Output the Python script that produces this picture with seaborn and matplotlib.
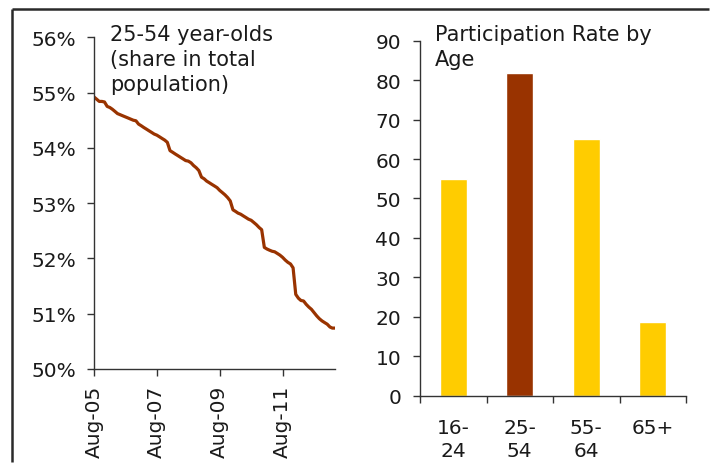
import matplotlib
matplotlib.use("Agg")
import matplotlib.pyplot as plt
import matplotlib.dates as mdates
from matplotlib.lines import Line2D
import numpy as np
import pandas as pd
import seaborn as sns

# Share of 25-54 year-olds in the total population (%), monthly Aug-2005 .. Apr-2013
share_2005 = [54.92, 54.88, 54.84, 54.84, 54.83]
share_2006 = [54.75, 54.73, 54.70, 54.66, 54.62, 54.60, 54.58, 54.56, 54.54, 54.52, 54.50, 54.49]
share_2007 = [54.43, 54.40, 54.37, 54.34, 54.31, 54.28, 54.25, 54.23, 54.20, 54.17, 54.14, 54.10]
share_2008 = [53.95, 53.92, 53.89, 53.86, 53.83, 53.80, 53.77, 53.76, 53.73, 53.68, 53.64, 53.59]
share_2009 = [53.47, 53.44, 53.40, 53.37, 53.34, 53.31, 53.28, 53.23, 53.19, 53.15, 53.10, 53.04]
share_2010 = [52.88, 52.85, 52.82, 52.80, 52.77, 52.74, 52.71, 52.69, 52.65, 52.61, 52.56, 52.52]
share_2011 = [52.20, 52.17, 52.15, 52.13, 52.12, 52.09, 52.06, 52.02, 51.97, 51.93, 51.90, 51.83]
share_2012 = [51.35, 51.28, 51.24, 51.23, 51.17, 51.12, 51.08, 51.02, 50.96, 50.91, 50.87, 50.84]
share_2013 = [50.81, 50.76, 50.74, 50.74]
share_start = "2005-08-01"

# Labour force participation rate by age group
age_groups = ["16-\n24", "25-\n54", "55-\n64", "65+"]
participation = [54.9, 81.8, 65.0, 18.7]
bar_colors = ["#FFCC00", "#993300", "#FFCC00", "#FFCC00"]

left_ticks = ["2005-08-01", "2007-08-01", "2009-08-01", "2011-08-01"]

share = share_2005 + share_2006 + share_2007 + share_2008 + share_2009 + \
    share_2010 + share_2011 + share_2012 + share_2013
dates = pd.date_range(share_start, periods=len(share), freq="MS")
df_share = pd.DataFrame({"date": dates, "share": share})
df_part = pd.DataFrame({"age": age_groups, "rate": participation})

sns.set_theme(style="ticks")
plt.rcParams["font.family"] = ["DejaVu Sans"]
axis_color = "#333333"
text_color = "#1a1a1a"
fs = 14.5

W, H, DPI = 712, 464, 100
fig = plt.figure(figsize=(W / DPI, H / DPI), dpi=DPI)
fig.patch.set_facecolor("white")
fig.patch.set_linewidth(0)

# ---- left panel: population share line ----
ax1 = fig.add_axes([94 / W, 1 - 370 / H, 241 / W, 331.7 / H])
sns.lineplot(data=df_share, x="date", y="share", ax=ax1, color="#993300",
             linewidth=2.3)
ax1.set_xlim(dates[0], dates[-1])
ax1.set_ylim(50, 56)
ax1.set_yticks(np.arange(50, 57, 1))
ax1.set_yticklabels([f"{v}%" for v in range(50, 57)])
ax1.set_xticks(pd.to_datetime(left_ticks))
ax1.xaxis.set_major_formatter(mdates.DateFormatter("%b-%y"))
ax1.tick_params(axis="x", rotation=90)
ax1.set_xlabel("")
ax1.set_ylabel("")

# ---- right panel: participation bars ----
ax2 = fig.add_axes([420 / W, 1 - 396.7 / H, 266 / W, 355 / H])
sns.barplot(data=df_part, x="age", y="rate", hue="age", palette=bar_colors,
            dodge=False, width=0.4, legend=False, ax=ax2, saturation=1)
ax2.set_xlim(-0.5, 3.5)
ax2.set_ylim(0, 90)
ax2.set_yticks(np.arange(0, 91, 10))
ax2.set_xticks(np.arange(-0.5, 4.0, 1.0))
ax2.set_xticklabels([])
ax2.set_xticks(np.arange(0, 4), minor=True)
ax2.set_xticklabels(age_groups, minor=True, linespacing=1.3)
ax2.set_xlabel("")
ax2.set_ylabel("")

for ax in (ax1, ax2):
    sns.despine(ax=ax)
    for s in ("left", "bottom"):
        ax.spines[s].set_color(axis_color)
        ax.spines[s].set_linewidth(1.0)
    ax.tick_params(axis="both", which="major", direction="out", length=5,
                   width=1.0, color=axis_color, labelsize=fs,
                   labelcolor=text_color, bottom=True, left=True)
    ax.grid(False)
    ax.set_facecolor("white")
ax2.tick_params(axis="x", which="minor", length=0, pad=16, labelsize=fs,
                labelcolor=text_color, bottom=True)
ax1.tick_params(axis="y", pad=8)
ax2.tick_params(axis="y", pad=8.5)
ax1.tick_params(axis="x", pad=6)

# Panel captions
fig.text(110 / W, 1 - 25 / H, "25-54 year-olds\n(share in total\npopulation)",
         ha="left", va="top", fontsize=15, color=text_color, linespacing=1.3)
fig.text(435 / W, 1 - 25 / H, "Participation Rate by\nAge",
         ha="left", va="top", fontsize=15, color=text_color, linespacing=1.3)

# Outer frame: top and left edges
fy = 1 - 10 / H
fx = 12 / W
fig.add_artist(Line2D([fx, 1 - 3 / W], [fy, fy], transform=fig.transFigure,
                      color="#2a2a2a", linewidth=1.8, solid_capstyle="butt"))
fig.add_artist(Line2D([fx, fx], [1 / H, fy], transform=fig.transFigure,
                      color="#2a2a2a", linewidth=1.8, solid_capstyle="butt"))

fig.savefig("out.png", dpi=DPI)
